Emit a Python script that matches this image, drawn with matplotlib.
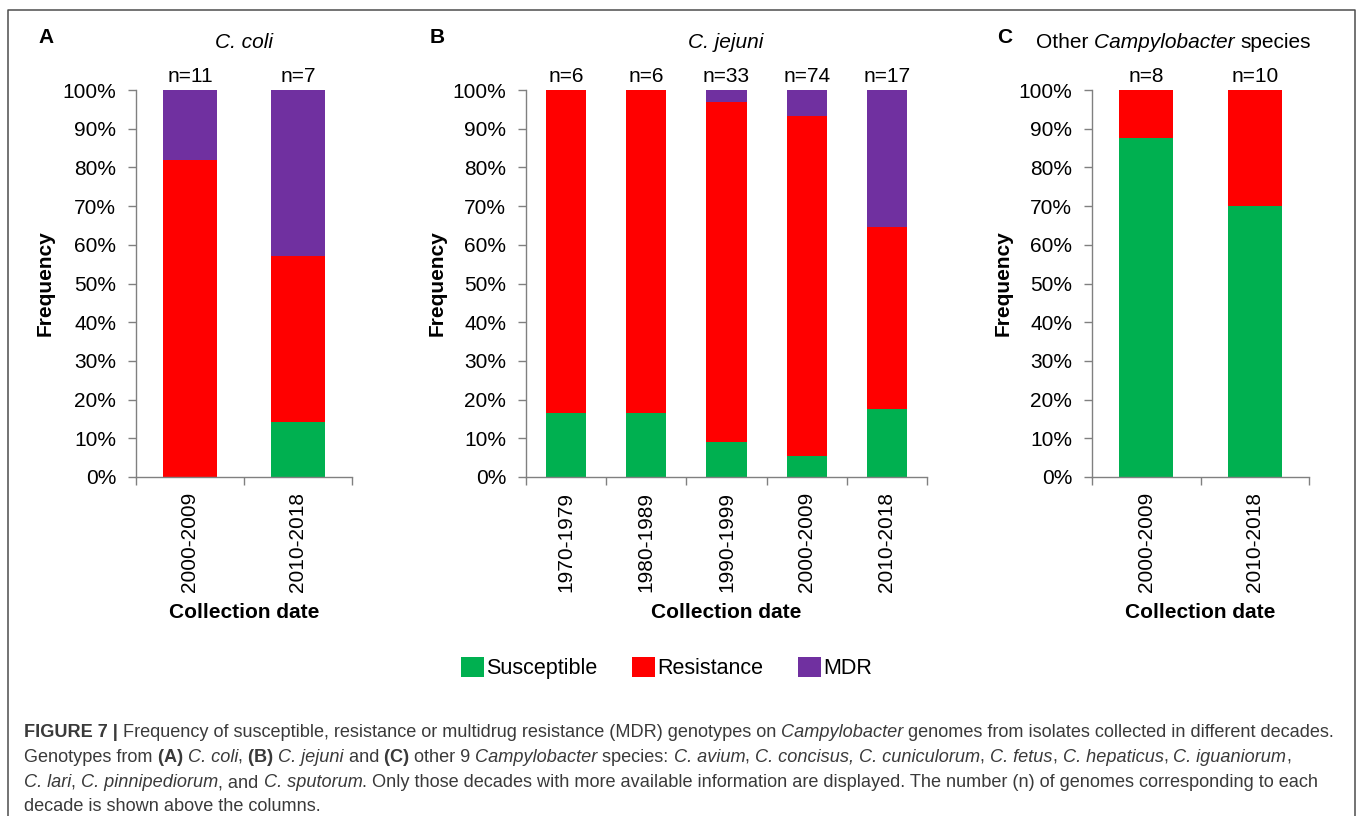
import matplotlib
matplotlib.use('Agg')
import matplotlib.pyplot as plt
from matplotlib.lines import Line2D
from matplotlib.patches import Patch
from matplotlib.ticker import PercentFormatter

plt.rcParams['font.family'] = ['Liberation Sans', 'DejaVu Sans']

# genome counts per decade: susceptible, resistance, MDR
coli_periods = ['2000-2009', '2010-2018']
coli_s = [0, 1]
coli_r = [9, 3]
coli_m = [2, 3]

jejuni_periods = ['1970-1979', '1980-1989', '1990-1999', '2000-2009', '2010-2018']
jejuni_s = [1, 1, 3, 4, 3]
jejuni_r = [5, 5, 29, 65, 8]
jejuni_m = [0, 0, 1, 5, 6]

other_periods = ['2000-2009', '2010-2018']
other_s = [7, 7]
other_r = [1, 3]
other_m = [0, 0]

categories = ['Susceptible', 'Resistance', 'MDR']
colors = ['#00B050', '#FF0000', '#7030A0']

caption = [
    [('FIGURE 7 | ', 'b'),
     ('Frequency of susceptible, resistance or multidrug resistance (MDR) genotypes on ', ''),
     ('Campylobacter ', 'i'),
     ('genomes from isolates collected in different decades.', '')],
    [('Genotypes from ', ''), ('(A) ', 'b'), ('C. coli', 'i'), (', ', ''),
     ('(B) ', 'b'), ('C. jejuni ', 'i'), ('and ', ''), ('(C) ', 'b'),
     ('other 9 ', ''), ('Campylobacter ', 'i'), ('species: ', ''),
     ('C. avium', 'i'), (', ', ''), ('C. concisus, C. cuniculorum', 'i'), (', ', ''),
     ('C. fetus', 'i'), (', ', ''), ('C. hepaticus', 'i'), (', ', ''),
     ('C. iguaniorum', 'i'), (',', '')],
    [('C. lari', 'i'), (', ', ''), ('C. pinnipediorum', 'i'), (', and ', ''),
     ('C. sputorum', 'i'),
     ('. Only those decades with more available information are displayed. '
      'The number (n) of genomes corresponding to each', '')],
    [('decade is shown above the columns.', '')],
]

W, H = 1358, 816
fig = plt.figure(figsize=(W / 100, H / 100), dpi=100)
renderer = fig.canvas.get_renderer()


def px(x, y):
    return x / W, 1 - y / H


def draw_runs(x, y, runs, **kw):
    # lay out differently styled pieces of text one after another
    fx, fy = px(x, y)
    for s, style in runs:
        props = dict(kw)
        props['fontweight'] = 'bold' if 'b' in style else 'normal'
        props['fontstyle'] = 'italic' if 'i' in style else 'normal'
        fig.text(fx, fy, s, ha='left', va='baseline', **props)
        probe = fig.text(0, 0, s + 'x', **props)
        ref = fig.text(0, 0, 'x', **props)
        w = probe.get_window_extent(renderer).width - ref.get_window_extent(renderer).width
        probe.remove()
        ref.remove()
        fx += w / W


def panel(left, right, periods, s, r, m):
    x0, y0 = px(left, 477)
    x1, y1 = px(right, 90)
    ax = fig.add_axes([x0, y0, x1 - x0, y1 - y0])
    n = [a + b + c for a, b, c in zip(s, r, m)]
    fs = [a / t for a, t in zip(s, n)]
    fr = [b / t for b, t in zip(r, n)]
    fm = [c / t for c, t in zip(m, n)]
    pos = list(range(len(periods)))
    base = [0] * len(pos)
    for vals, col, lab in zip([fs, fr, fm], colors, categories):
        ax.bar(pos, vals, 0.5, bottom=base, color=col, linewidth=0, label=lab)
        base = [b + v for b, v in zip(base, vals)]
    for p, t, top in zip(pos, n, base):
        ax.annotate(f'n={t}', (p, top), xytext=(0, 5.8), textcoords='offset points',
                    ha='center', va='baseline', fontsize=15)
    ax.set_xlim(-0.5, len(periods) - 0.5)
    ax.set_ylim(0, 1)
    ax.set_yticks([i / 10 for i in range(11)])
    ax.yaxis.set_major_formatter(PercentFormatter(1.0, decimals=0))
    ax.set_xticks([i - 0.5 for i in range(len(periods) + 1)])
    ax.set_xticklabels([])
    ax.set_xticks(pos, minor=True)
    ax.set_xticklabels(periods, minor=True, rotation=90, fontsize=15)
    ax.tick_params(axis='x', which='minor', length=0, pad=10.5)
    ax.tick_params(axis='both', which='major', length=5.8, width=1, color='#808080',
                   labelsize=15)
    ax.tick_params(axis='y', pad=8.5)
    for side in ['top', 'right']:
        ax.spines[side].set_visible(False)
    for side in ['left', 'bottom']:
        ax.spines[side].set_color('#808080')
        ax.spines[side].set_linewidth(1)
    cx = (left + right) / 2
    fig.text(*px(cx, 613), 'Collection date', ha='center', va='center',
             fontsize=15, fontweight='bold')
    return ax


ax_a = panel(136, 352, coli_periods, coli_s, coli_r, coli_m)
ax_b = panel(526, 927, jejuni_periods, jejuni_s, jejuni_r, jejuni_m)
ax_c = panel(1092, 1309, other_periods, other_s, other_r, other_m)

for x in [45, 437, 1003]:
    fig.text(*px(x, 283), 'Frequency', rotation=90, ha='center', va='center',
             fontsize=15, fontweight='bold')

# panel letters and titles
for x, letter in [(46, 'A'), (437, 'B'), (1005, 'C')]:
    fig.text(*px(x, 43), letter, ha='center', va='baseline', fontsize=15, fontweight='bold')
fig.text(*px(244, 48), 'C. coli', ha='center', va='baseline', fontsize=15, fontstyle='italic')
fig.text(*px(726, 48), 'C. jejuni', ha='center', va='baseline', fontsize=15, fontstyle='italic')
draw_runs(1036, 47.5, [('Other ', ''), ('Campylobacter ', 'i'), ('species', '')], fontsize=15)

handles = [Patch(facecolor=c, edgecolor='none', label=l) for c, l in zip(colors, categories)]
fig.legend(handles=handles, loc='center', bbox_to_anchor=px(666.5, 668), ncol=3,
           frameon=False, fontsize=15.5, handlelength=1.07, handleheight=1.07,
           handletextpad=0.1, columnspacing=1.6, borderpad=0, borderaxespad=0)

# figure frame, open at the bottom
fx, fy = zip(px(8, H), px(8, 10), px(1355, 10), px(1355, H))
fig.add_artist(Line2D(fx, fy, color='#4d4d4d', linewidth=1.1))

for y, runs in zip([737, 762, 787, 811], caption):
    draw_runs(24, y, runs, fontsize=13.1, color='#3a3a3a')

fig.savefig('out.png', dpi=100)
